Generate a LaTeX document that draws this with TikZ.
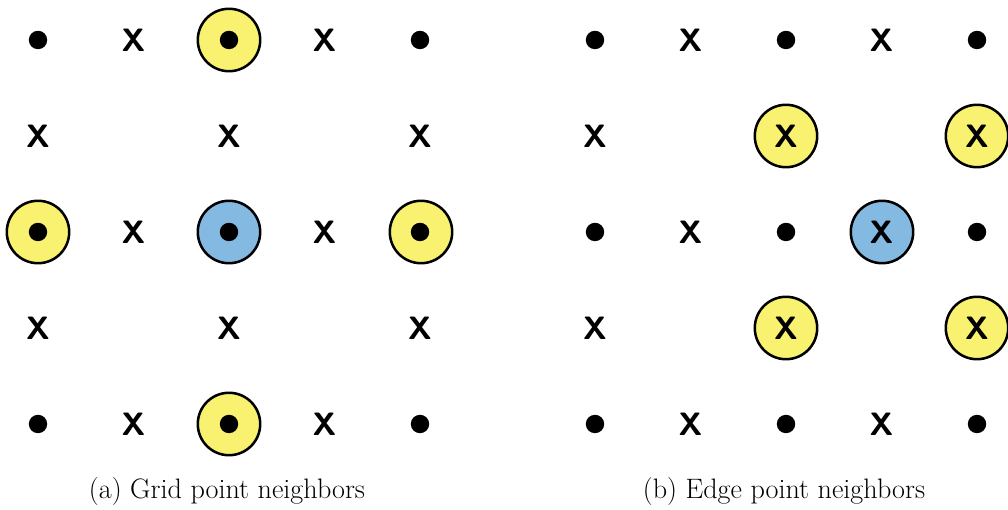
\documentclass[tikz,border=0pt]{standalone}
\usepackage{tikz}
\definecolor{nbryellow}{RGB}{249,242,112}
\definecolor{ctrblue}{RGB}{132,186,226}

\begin{document}
\begin{tikzpicture}[x=0.025cm,y=-0.025cm,
  pt/.style={circle,fill=black,inner sep=0pt,minimum size=0.46cm},
  ex/.style={inner sep=0pt,font=\fontsize{23}{23}\selectfont\sffamily\bfseries},
  ring/.style={circle,draw=black,line width=1.8pt,inner sep=0pt,minimum size=1.56cm},
  nbr/.style={ring,fill=nbryellow},
  ctr/.style={ring,fill=ctrblue},
  caption/.style={font=\fontsize{20}{24}\selectfont}]
\useasboundingbox (0,0) rectangle (1008,510);
% rings, left panel
\node[nbr] (ga) at (229,40) {};
\node[nbr] (gb) at (38,232) {};
\node[ctr] (gc) at (229,232) {};
\node[nbr] (gd) at (421,232) {};
\node[nbr] (ge) at (229,424) {};
% rings, right panel
\node[nbr] (ea) at (786,136) {};
\node[nbr] (eb) at (977,136) {};
\node[ctr] (ec) at (882,232) {};
\node[nbr] (ed) at (786,328) {};
\node[nbr] (ee) at (977,328) {};
% grid marks
\foreach \r in {0,2,4}{
  \foreach \c in {0,2,4}{
    \node[pt] (g\r\c) at (38+95.5*\c,40+96*\r) {};
    \node[pt] (e\r\c) at (595+95.5*\c,40+96*\r) {};
  }
  \foreach \c in {1,3}{
    \node[ex] (g\r\c) at (38+95.5*\c,40+96*\r) {X};
    \node[ex] (e\r\c) at (595+95.5*\c,40+96*\r) {X};
  }
}
\foreach \r in {1,3}
  \foreach \c in {0,2,4}{
    \node[ex] (g\r\c) at (38+95.5*\c,40+96*\r) {X};
    \node[ex] (e\r\c) at (595+95.5*\c,40+96*\r) {X};
  }
% captions
\node[caption] (capa) at (227,491) {(a) Grid point neighbors};
\node[caption] (capb) at (784,491) {(b) Edge point neighbors};
\end{tikzpicture}
\end{document}
